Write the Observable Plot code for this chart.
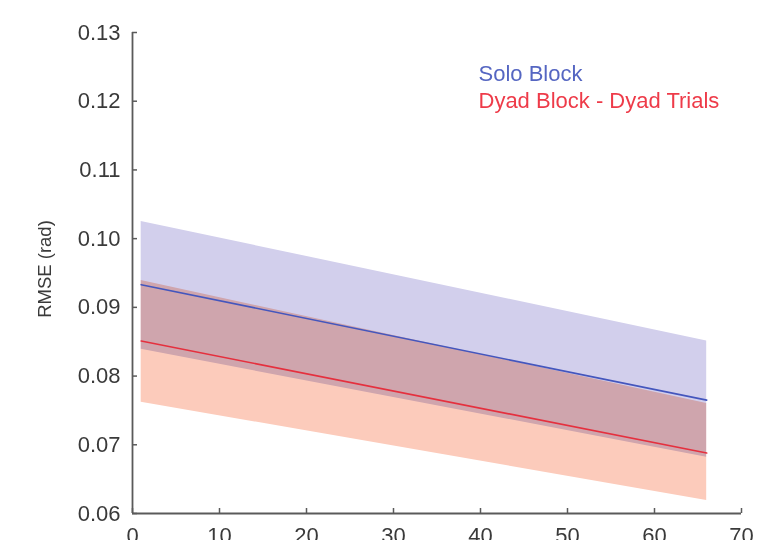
<!DOCTYPE html>
<html>
<head>
<meta charset="utf-8">
<script src="https://cdn.jsdelivr.net/npm/d3@7"></script>
<script src="https://cdn.jsdelivr.net/npm/@observablehq/plot@0.6"></script>
<style>
  html, body { margin: 0; padding: 0; background: #fff; }
  #chart { width: 776px; height: 540px; overflow: hidden; }
</style>
</head>
<body>
<div id="chart"></div>
<script>
// Data (linear fits, endpoints)
const trial = [1, 66];
const soloMean = [0.0933, 0.0765];
const soloLow  = [0.0839, 0.0682];
const soloHigh = [0.1025, 0.0851];
const dyadMean = [0.0851, 0.0688];
const dyadLow  = [0.0762, 0.0619];
const dyadHigh = [0.0939, 0.0760];

const xTicks = [0, 10, 20, 30, 40, 50, 60, 70];
const yTicks = [0.06, 0.07, 0.08, 0.09, 0.10, 0.11, 0.12, 0.13];
const seriesNames = ["Solo Block", "Dyad Block - Dyad Trials"];

const solo = trial.map((t, i) => ({x: t, mean: soloMean[i], lo: soloLow[i], hi: soloHigh[i]}));
const dyad = trial.map((t, i) => ({x: t, mean: dyadMean[i], lo: dyadLow[i], hi: dyadHigh[i]}));

const axisColor = "#5a5a5a";
const textColor = "#3a3a3a";
const font = "Liberation Sans, Arial, Helvetica, sans-serif";

const plot = Plot.plot({
  width: 776,
  height: 540,
  marginLeft: 132,
  marginRight: 35,
  marginTop: 32,
  marginBottom: 27,
  style: {fontFamily: font, fontSize: "22px", color: textColor, background: "#fff", overflow: "visible"},
  x: {domain: [0, 70], ticks: xTicks},
  y: {domain: [0.06, 0.13], ticks: yTicks},
  marks: [
    Plot.areaY(solo, {x: "x", y1: "lo", y2: "hi", fill: "#d2cfec"}),
    Plot.areaY(dyad, {x: "x", y1: "lo", y2: "hi", fill: "#fccbbb", mixBlendMode: "multiply"}),
    Plot.lineY(solo, {x: "x", y: "mean", stroke: "#4456bd", strokeWidth: 1.6}),
    Plot.lineY(dyad, {x: "x", y: "mean", stroke: "#e5303e", strokeWidth: 1.6}),
    // axis lines
    Plot.ruleX([0], {stroke: axisColor, strokeWidth: 1.8}),
    Plot.ruleY([0.06], {stroke: axisColor, strokeWidth: 1.8}),
    // inward tick marks
    Plot.axisX({ticks: xTicks, tickSize: -5, tickFormat: () => "", stroke: axisColor, strokeWidth: 1.5, label: null}),
    Plot.axisY({ticks: yTicks, tickSize: -5, tickFormat: () => "", stroke: axisColor, strokeWidth: 1.5, label: null}),
    // tick labels
    Plot.axisX({ticks: xTicks, tickSize: 0, tickPadding: 14, tickFormat: d => String(d), fill: textColor, fontSize: 22, label: null}),
    Plot.axisY({ticks: yTicks, tickSize: 0, tickPadding: 12, tickFormat: d => d.toFixed(2), fill: textColor, fontSize: 22, label: null}),
    // y label
    Plot.text(["RMSE (rad)"], {frameAnchor: "left", textAnchor: "middle", lineAnchor: "middle", rotate: -90, dx: -87, dy: -4, fill: textColor, fontSize: 18.5}),
    // legend
    Plot.text([seriesNames[0]], {frameAnchor: "top-left", dx: 346, dy: 41, textAnchor: "start", lineAnchor: "middle", fill: "#5566c2", fontSize: 22}),
    Plot.text([seriesNames[1]], {frameAnchor: "top-left", dx: 346, dy: 68.5, textAnchor: "start", lineAnchor: "middle", fill: "#ee3b49", fontSize: 22})
  ]
});
document.getElementById("chart").appendChild(plot);
</script>
</body>
</html>
